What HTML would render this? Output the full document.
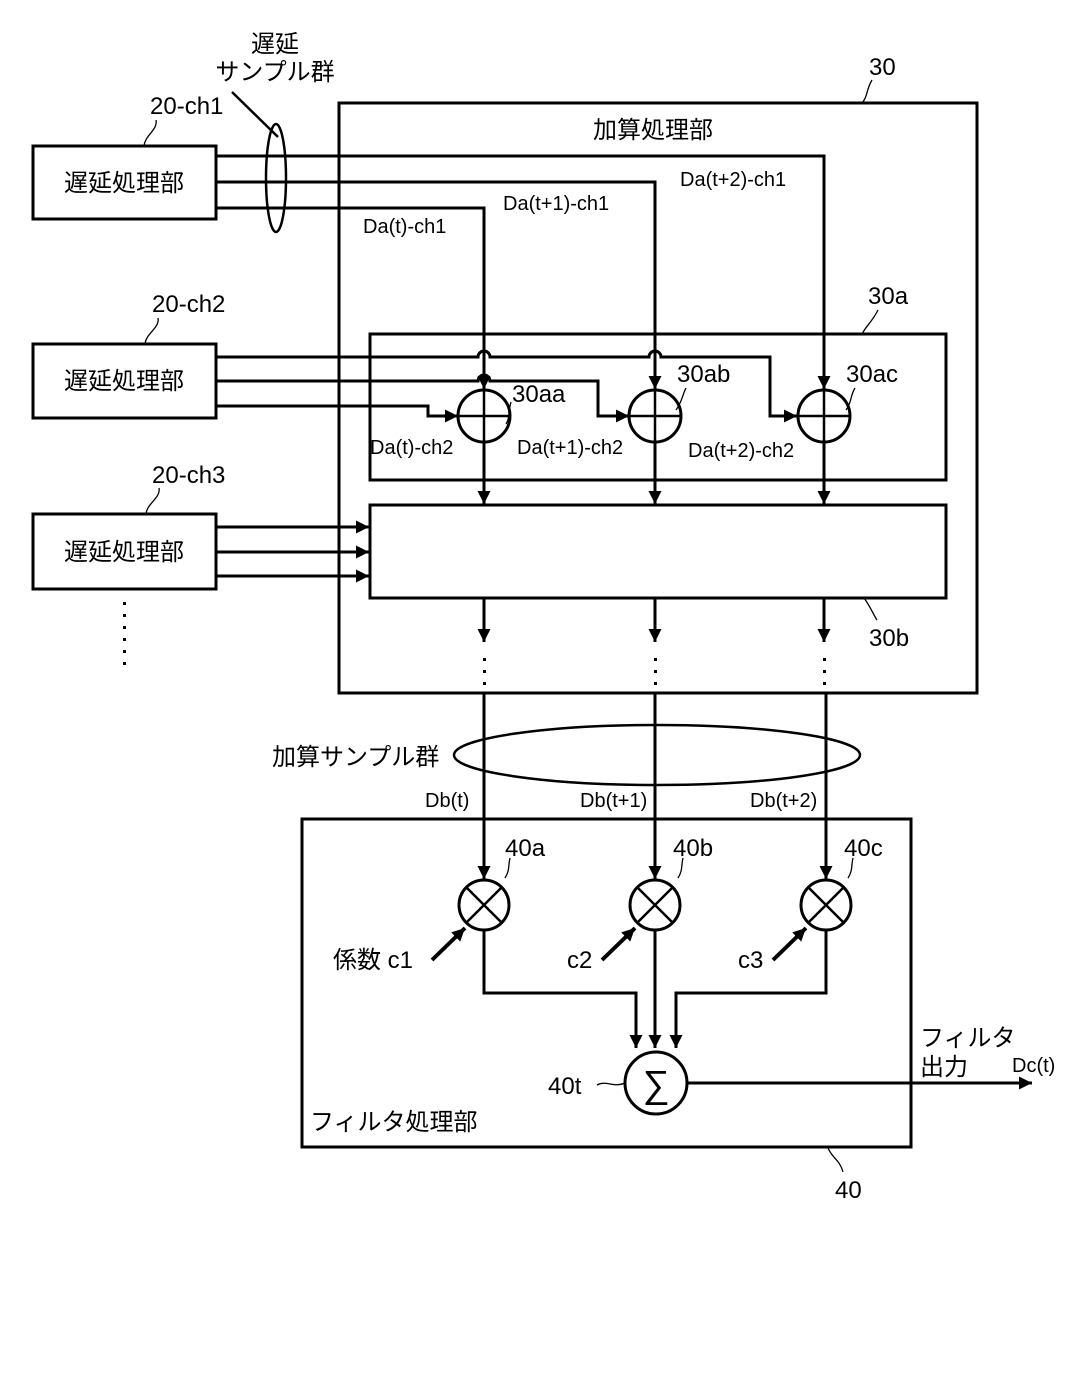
<!DOCTYPE html>
<html><head><meta charset="utf-8"><style>
html,body{margin:0;padding:0;background:#fff}
svg{display:block}
text{font-family:"Liberation Sans","Noto Sans CJK JP",sans-serif;fill:#000}
.j{font-size:24px}
.s{font-size:20px}
.n{font-size:24px}
</style></head><body>
<svg width="1087" height="1386" viewBox="0 0 1087 1386" xmlns="http://www.w3.org/2000/svg">
<defs>
<marker id="a" viewBox="0 0 10 10" refX="10" refY="5" markerWidth="13" markerHeight="13" markerUnits="userSpaceOnUse" orient="auto"><path d="M0,0L10,5L0,10z" fill="#000"/></marker>
</defs>
<g fill="none" stroke="#000" stroke-width="3">
<rect x="339" y="103" width="638" height="590"/>
<rect x="33" y="146" width="183" height="73"/>
<rect x="33" y="344" width="183" height="74"/>
<rect x="33" y="514" width="183" height="75"/>
<rect x="370" y="334" width="576" height="146"/>
<rect x="370" y="505" width="576" height="93"/>
<rect x="302" y="819" width="609" height="328"/>
</g>
<g fill="none" stroke="#000" stroke-width="3">
<path d="M216,156H824V389" marker-end="url(#a)"/>
<path d="M216,182H655V389" marker-end="url(#a)"/>
<path d="M216,208H484V389" marker-end="url(#a)"/>
<path d="M216,357H478a6,6 0 0 1 12,0H649a6,6 0 0 1 12,0H770V416H797" marker-end="url(#a)"/>
<path d="M216,381H478a6,6 0 0 1 12,0H598V416H629" marker-end="url(#a)"/>
<path d="M216,406H428V416H458" marker-end="url(#a)"/>
<path d="M484,442V504" marker-end="url(#a)"/>
<path d="M655,442V504" marker-end="url(#a)"/>
<path d="M824,442V504" marker-end="url(#a)"/>
<path d="M216,527H369" marker-end="url(#a)"/>
<path d="M216,552H369" marker-end="url(#a)"/>
<path d="M216,576H369" marker-end="url(#a)"/>
<path d="M484,598V642" marker-end="url(#a)"/>
<path d="M655,598V642" marker-end="url(#a)"/>
<path d="M824,598V642" marker-end="url(#a)"/>
<path d="M484,693V879" marker-end="url(#a)"/>
<path d="M655,693V879" marker-end="url(#a)"/>
<path d="M826,693V879" marker-end="url(#a)"/>
<path d="M432,960L465,928" stroke-width="4" marker-end="url(#a)"/>
<path d="M602,960L635,928" stroke-width="4" marker-end="url(#a)"/>
<path d="M773,960L806,928" stroke-width="4" marker-end="url(#a)"/>
<path d="M484,930V993H636V1048" marker-end="url(#a)"/>
<path d="M655,930V1048" marker-end="url(#a)"/>
<path d="M826,930V993H676V1048" marker-end="url(#a)"/>
<path d="M687,1083H1032" marker-end="url(#a)"/>
</g>
<g fill="#fff" stroke="#000" stroke-width="3">
<ellipse cx="484" cy="416" rx="26" ry="26"/>
<ellipse cx="655" cy="416" rx="26" ry="26"/>
<ellipse cx="824" cy="416" rx="26" ry="26"/>
<circle cx="484" cy="905" r="25"/>
<circle cx="655" cy="905" r="25"/>
<circle cx="826" cy="905" r="25"/>
<circle cx="656" cy="1083" r="31"/>
</g>
<g stroke="#000" stroke-width="2.5" fill="none">
<path d="M458,416H510M484,390V442"/>
<path d="M629,416H681M655,390V442"/>
<path d="M798,416H850M824,390V442"/>
<path d="M466,887L502,923M502,887L466,923"/>
<path d="M637,887L673,923M673,887L637,923"/>
<path d="M808,887L844,923M844,887L808,923"/>
</g>
<g fill="none" stroke="#000" stroke-width="2.5">
<ellipse cx="276" cy="178" rx="10" ry="54"/>
<path d="M232,92L278,137"/>
<ellipse cx="657" cy="755" rx="203" ry="30"/>
</g>
<g fill="#000">
<rect x="123" y="602" width="3" height="3"/><rect x="123" y="614" width="3" height="3"/><rect x="123" y="626" width="3" height="3"/><rect x="123" y="638" width="3" height="3"/><rect x="123" y="650" width="3" height="3"/><rect x="123" y="662" width="3" height="3"/>
<rect x="483" y="658" width="3" height="3"/><rect x="483" y="670" width="3" height="3"/><rect x="483" y="682" width="3" height="3"/>
<rect x="654" y="658" width="3" height="3"/><rect x="654" y="670" width="3" height="3"/><rect x="654" y="682" width="3" height="3"/>
<rect x="823" y="658" width="3" height="3"/><rect x="823" y="670" width="3" height="3"/><rect x="823" y="682" width="3" height="3"/>
</g>
<g fill="none" stroke="#000" stroke-width="1.3">
<path d="M156,120C158,130 145,135 144,146"/>
<path d="M158,318C160,328 146,333 145,344"/>
<path d="M159,488C161,498 147,503 146,514"/>
<path d="M872,80C866,90 868,96 862,103"/>
<path d="M878,310C872,322 866,326 862,334"/>
<path d="M877,620C872,612 870,606 864,598"/>
<path d="M511,402C508,412 510,418 506,424"/>
<path d="M686,388C682,396 682,402 676,410"/>
<path d="M855,388C850,396 852,402 846,410"/>
<path d="M510,858C508,866 510,870 505,878"/>
<path d="M683,858C681,866 683,870 678,878"/>
<path d="M853,858C851,866 853,870 848,878"/>
<path d="M597,1085C606,1080 614,1088 625,1083"/>
<path d="M828,1148C832,1158 840,1160 843,1172"/>
</g>
<text class="j" x="275" y="52" text-anchor="middle">遅延</text>
<text class="j" x="275" y="80" text-anchor="middle">サンプル群</text>
<text class="n" x="150" y="114">20-ch1</text>
<text class="n" x="152" y="312">20-ch2</text>
<text class="n" x="152" y="483">20-ch3</text>
<text class="j" x="124" y="191" text-anchor="middle">遅延処理部</text>
<text class="j" x="124" y="389" text-anchor="middle">遅延処理部</text>
<text class="j" x="124" y="560" text-anchor="middle">遅延処理部</text>
<text class="n" x="869" y="75">30</text>
<text class="j" x="593" y="138">加算処理部</text>
<text class="s" x="680" y="186">Da(t+2)-ch1</text>
<text class="s" x="503" y="210">Da(t+1)-ch1</text>
<text class="s" x="363" y="233">Da(t)-ch1</text>
<text class="n" x="868" y="304">30a</text>
<text class="n" x="512" y="402">30aa</text>
<text class="n" x="677" y="382">30ab</text>
<text class="n" x="846" y="382">30ac</text>
<text class="s" x="370" y="454">Da(t)-ch2</text>
<text class="s" x="517" y="454">Da(t+1)-ch2</text>
<text class="s" x="688" y="457">Da(t+2)-ch2</text>
<text class="n" x="869" y="646">30b</text>
<text class="j" x="272" y="765">加算サンプル群</text>
<text class="s" x="425" y="807">Db(t)</text>
<text class="s" x="580" y="807">Db(t+1)</text>
<text class="s" x="750" y="807">Db(t+2)</text>
<text class="n" x="505" y="856">40a</text>
<text class="n" x="673" y="856">40b</text>
<text class="n" x="844" y="856">40c</text>
<text class="j" x="333" y="968">係数 c1</text>
<text class="j" x="567" y="968">c2</text>
<text class="j" x="738" y="968">c3</text>
<text class="n" x="548" y="1094">40t</text>
<text x="656" y="1097" text-anchor="middle" style="font-size:38px">∑</text>
<text class="j" x="920" y="1046">フィルタ</text>
<text class="j" x="920" y="1075">出力</text>
<text class="s" x="1012" y="1072">Dc(t)</text>
<text class="j" x="310" y="1130">フィルタ処理部</text>
<text class="n" x="835" y="1198">40</text>
</svg>
</body></html>
